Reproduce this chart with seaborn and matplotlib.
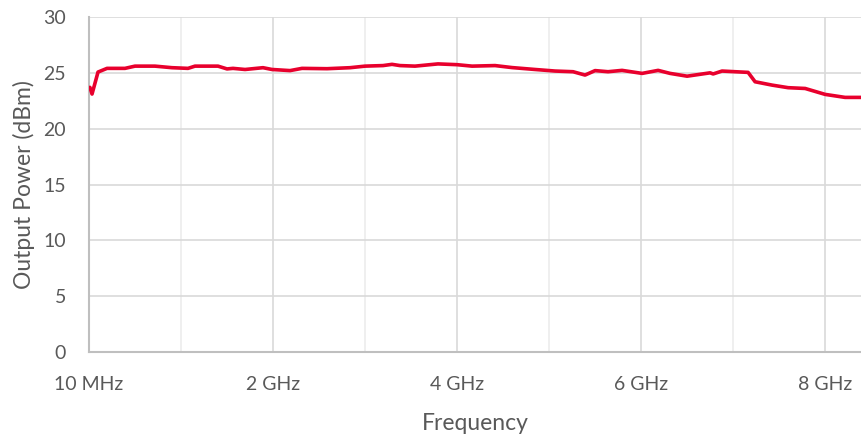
import matplotlib
matplotlib.use("Agg")
import matplotlib.pyplot as plt
import seaborn as sns
import pandas as pd

# Data (frequency in GHz, output power in dBm)
freq_ghz = [0.01, 0.033, 0.098, 0.196, 0.391, 0.50, 0.717, 0.902, 1.076, 1.152, 1.402,
            1.50, 1.565, 1.696, 1.891, 1.989, 2.185, 2.315, 2.587, 2.837, 3.0, 3.196,
            3.293, 3.380, 3.543, 3.793, 4.0, 4.163, 4.413, 4.598, 4.848, 5.065, 5.261,
            5.391, 5.50, 5.641, 5.793, 6.011, 6.185, 6.315, 6.50, 6.75, 6.783, 6.88,
            7.163, 7.239, 7.424, 7.598, 7.783, 8.0, 8.217, 8.402]
power_dbm = [23.7, 23.1, 25.07, 25.4, 25.4, 25.6, 25.6, 25.46, 25.4, 25.6, 25.6,
             25.35, 25.4, 25.3, 25.46, 25.3, 25.2, 25.4, 25.37, 25.46, 25.6, 25.65,
             25.76, 25.65, 25.6, 25.8, 25.73, 25.6, 25.65, 25.47, 25.3, 25.16, 25.1,
             24.8, 25.2, 25.1, 25.22, 24.95, 25.22, 24.95, 24.7, 25.0, 24.9, 25.16,
             25.04, 24.2, 23.9, 23.67, 23.6, 23.07, 22.8, 22.8]
x_ticks = [0, 2, 4, 6, 8]
x_tick_labels = ["10 MHz", "2 GHz", "4 GHz", "6 GHz", "8 GHz"]
y_ticks = [0, 5, 10, 15, 20, 25, 30]

df = pd.DataFrame({"Frequency": freq_ghz, "Power": power_dbm})

sns.set_theme(style="white")
plt.rcParams["font.family"] = ["Lato", "DejaVu Sans"]

fig = plt.figure(figsize=(8.62, 4.42), dpi=100)
ax = fig.add_axes([89 / 862, 90 / 442, 772 / 862, 335 / 442])

# minor vertical grid at odd GHz
for xm in [1, 3, 5, 7]:
    ax.axvline(xm, color="#ececec", lw=1.2, zorder=0)
ax.grid(True, axis="both", color="#d9d9d9", lw=1.2, zorder=0)
ax.set_axisbelow(True)

sns.lineplot(data=df, x="Frequency", y="Power", ax=ax, color="#e8002d",
             linewidth=2.6, zorder=3)

ax.set_xlim(0, 8.39)
ax.set_ylim(0, 30)
ax.set_xticks(x_ticks)
ax.set_xticklabels(x_tick_labels)
ax.set_yticks(y_ticks)

tc = "#595959"
ax.tick_params(axis="both", length=0, labelsize=14, colors=tc)
ax.tick_params(axis="x", pad=17)
ax.tick_params(axis="y", pad=16.5)
ax.set_xlabel("Frequency", fontsize=16.5, color=tc, labelpad=15)
ax.set_ylabel("Output Power (dBm)", fontsize=16.5, color=tc, labelpad=6)

for s in ["top", "right"]:
    ax.spines[s].set_visible(False)
for s in ["left", "bottom"]:
    ax.spines[s].set_color("#bfbfbf")
    ax.spines[s].set_linewidth(1.5)

fig.savefig("out.png", dpi=100)
